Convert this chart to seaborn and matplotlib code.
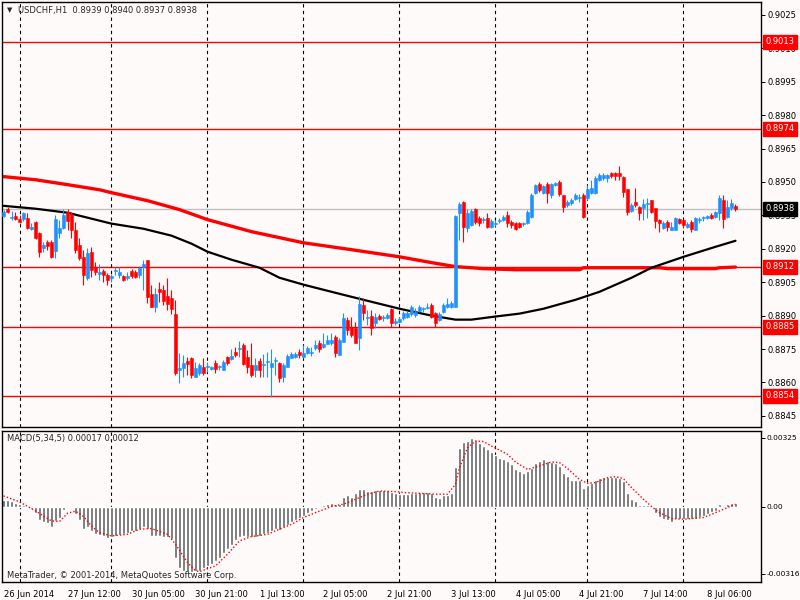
import numpy as np
import matplotlib
matplotlib.use('Agg')
import matplotlib.pyplot as plt
import matplotlib.transforms as mtransforms
import seaborn as sns

# USDCHF H1 candles, values in pips (0.0001)
opens = [8934.9, 8938.0, 8933.7, 8934.9, 8933.5, 8933.5, 8934.0, 8929.0, 8932.2, 8927.2,
         8920.5, 8923.2, 8923.2, 8919.1, 8927.2, 8929.5, 8936.7, 8935.8, 8928.6, 8921.8,
         8916.4, 8907.0, 8918.7, 8912.0, 8908.8, 8910.2, 8908.4, 8907.0, 8909.9, 8908.4,
         8907.9, 8907.0, 8910.2, 8909.7, 8908.4, 8912.0, 8915.1, 8899.8, 8894.0, 8902.1,
         8901.6, 8898.9, 8898.0, 8890.9, 8865.7, 8866.6, 8869.7, 8871.1, 8862.5, 8864.3,
         8867.0, 8866.8, 8866.1, 8868.8, 8866.8, 8865.7, 8871.5, 8870.6, 8873.8, 8874.9,
         8876.9, 8871.5, 8867.9, 8865.7, 8869.7, 8867.7, 8869.1, 8867.0, 8869.5, 8868.8,
         8862.5, 8867.0, 8871.1, 8871.5, 8873.8, 8871.5, 8873.3, 8873.1, 8875.6, 8877.8,
         8876.0, 8877.4, 8877.8, 8880.6, 8872.4, 8878.3, 8888.2, 8885.1, 8884.6, 8880.1,
         8894.9, 8889.1, 8890.0, 8886.9, 8890.0, 8888.9, 8889.1, 8893.1, 8886.9, 8887.3,
         8889.1, 8889.6, 8890.9, 8890.4, 8892.2, 8892.9, 8893.6, 8894.9, 8891.3, 8888.2,
         8891.8, 8894.0, 8894.0, 8894.0, 8936.2, 8941.1, 8929.5, 8930.8, 8938.0, 8934.0,
         8932.8, 8934.0, 8929.9, 8931.3, 8932.4, 8933.1, 8935.3, 8932.2, 8931.7, 8931.7,
         8931.0, 8931.7, 8934.4, 8945.2, 8949.2, 8945.2, 8949.2, 8944.3, 8948.8, 8950.1,
         8944.3, 8939.8, 8940.7, 8942.5, 8942.7, 8944.3, 8942.9, 8945.2, 8945.2, 8951.0,
         8951.9, 8951.9, 8954.2, 8954.2, 8954.2, 8952.4, 8947.0, 8937.1, 8941.1, 8938.9,
         8938.4, 8940.2, 8942.0, 8938.4, 8933.1, 8929.5, 8932.2, 8928.6, 8928.6, 8933.5,
         8933.1, 8929.9, 8932.2, 8928.6, 8932.8, 8933.7, 8934.0, 8935.3, 8934.4, 8936.2,
         8942.0, 8934.4, 8938.4, 8939.0]
highs = [8937.6, 8938.9, 8937.1, 8936.7, 8935.3, 8936.7, 8936.2, 8931.7, 8932.6, 8927.7,
         8923.2, 8924.1, 8924.1, 8935.3, 8933.1, 8938.0, 8938.0, 8936.7, 8932.2, 8925.0,
         8919.6, 8920.5, 8920.9, 8914.2, 8913.3, 8911.1, 8909.3, 8908.8, 8912.0, 8912.0,
         8908.4, 8909.7, 8911.1, 8910.6, 8912.4, 8915.1, 8915.1, 8903.9, 8902.5, 8905.2,
         8903.9, 8907.0, 8901.6, 8897.1, 8873.3, 8872.4, 8871.5, 8871.5, 8869.3, 8868.8,
         8871.1, 8869.3, 8867.5, 8870.2, 8867.9, 8870.2, 8872.0, 8875.1, 8876.0, 8878.7,
         8877.8, 8874.7, 8877.8, 8871.1, 8871.1, 8872.9, 8873.8, 8875.1, 8871.5, 8869.3,
         8868.8, 8872.9, 8873.8, 8873.8, 8875.1, 8876.9, 8876.5, 8876.0, 8879.2, 8879.2,
         8882.4, 8881.5, 8882.4, 8881.5, 8880.1, 8891.3, 8889.6, 8889.6, 8887.3, 8898.9,
         8898.0, 8892.7, 8892.7, 8891.3, 8890.9, 8890.4, 8891.3, 8893.6, 8889.1, 8889.6,
         8892.2, 8892.2, 8894.9, 8893.6, 8894.9, 8894.0, 8895.8, 8895.8, 8891.8, 8891.8,
         8895.8, 8898.0, 8896.7, 8935.3, 8941.1, 8941.5, 8938.0, 8938.0, 8938.4, 8934.9,
         8934.4, 8936.2, 8933.5, 8933.1, 8934.0, 8935.3, 8937.1, 8933.1, 8932.2, 8932.2,
         8932.2, 8937.6, 8945.2, 8949.2, 8950.1, 8948.8, 8950.1, 8949.7, 8950.1, 8951.0,
         8944.3, 8942.0, 8942.9, 8945.2, 8944.7, 8945.2, 8948.8, 8951.0, 8952.8, 8954.2,
         8954.2, 8953.7, 8954.6, 8954.6, 8957.3, 8952.8, 8947.0, 8940.7, 8947.4, 8939.3,
         8942.5, 8942.9, 8942.0, 8938.4, 8933.5, 8932.6, 8933.1, 8932.2, 8934.4, 8934.0,
         8933.5, 8932.2, 8933.1, 8934.4, 8934.4, 8934.9, 8935.3, 8936.2, 8937.1, 8944.3,
         8944.3, 8942.0, 8942.5, 8940.0]
lows = [8934.4, 8936.2, 8933.1, 8933.1, 8931.7, 8932.6, 8929.0, 8928.6, 8924.5, 8916.4,
        8918.7, 8919.6, 8916.0, 8916.0, 8925.0, 8929.0, 8928.6, 8925.0, 8918.2, 8915.1,
        8903.9, 8906.1, 8907.5, 8908.4, 8906.1, 8905.2, 8903.9, 8905.2, 8908.4, 8907.0,
        8905.7, 8906.1, 8907.0, 8907.0, 8907.0, 8901.6, 8895.8, 8894.0, 8891.8, 8896.2,
        8894.9, 8892.7, 8890.9, 8863.4, 8859.8, 8862.5, 8863.4, 8862.1, 8862.5, 8863.4,
        8863.4, 8864.8, 8865.7, 8864.3, 8865.7, 8865.7, 8867.9, 8870.2, 8871.5, 8871.5,
        8867.9, 8864.3, 8862.5, 8862.5, 8862.5, 8862.5, 8862.5, 8853.6, 8863.4, 8860.3,
        8860.3, 8867.0, 8871.1, 8871.1, 8871.1, 8871.1, 8872.9, 8872.0, 8874.7, 8873.8,
        8875.6, 8877.4, 8876.9, 8871.5, 8872.4, 8878.3, 8881.5, 8880.6, 8877.8, 8874.7,
        8888.2, 8886.0, 8881.5, 8884.6, 8888.2, 8887.8, 8888.7, 8885.1, 8886.0, 8886.9,
        8888.2, 8889.1, 8890.0, 8889.6, 8891.8, 8891.8, 8893.1, 8889.1, 8885.1, 8887.8,
        8891.3, 8893.6, 8893.6, 8894.0, 8924.1, 8923.2, 8927.7, 8930.4, 8931.3, 8930.4,
        8931.7, 8929.5, 8929.5, 8930.4, 8931.7, 8932.6, 8929.9, 8929.5, 8928.6, 8929.5,
        8930.4, 8931.3, 8934.0, 8944.7, 8945.6, 8944.7, 8940.7, 8942.9, 8948.3, 8943.8,
        8936.7, 8938.9, 8939.8, 8942.0, 8941.1, 8934.0, 8942.0, 8944.7, 8944.7, 8950.6,
        8951.0, 8950.1, 8951.9, 8951.0, 8951.0, 8943.4, 8935.3, 8936.7, 8938.9, 8933.1,
        8933.1, 8934.0, 8936.2, 8929.5, 8927.7, 8929.0, 8928.1, 8928.6, 8928.6, 8931.3,
        8929.5, 8929.5, 8927.7, 8928.6, 8931.7, 8932.6, 8933.5, 8933.5, 8934.0, 8933.1,
        8929.5, 8934.0, 8937.6, 8937.0]
closes = [8936.7, 8936.7, 8934.2, 8933.5, 8932.2, 8936.2, 8929.5, 8929.9, 8925.0, 8918.7,
          8921.8, 8921.4, 8916.4, 8933.5, 8929.5, 8935.3, 8932.6, 8928.6, 8919.6, 8916.0,
          8908.4, 8918.2, 8910.6, 8909.7, 8909.7, 8908.4, 8906.1, 8907.9, 8910.4, 8909.7,
          8906.1, 8907.9, 8907.9, 8907.5, 8911.5, 8913.3, 8898.5, 8894.0, 8899.8, 8900.7,
          8896.7, 8895.4, 8893.1, 8864.3, 8866.6, 8868.8, 8868.4, 8863.4, 8866.6, 8867.9,
          8864.3, 8867.3, 8867.0, 8866.1, 8867.3, 8869.3, 8868.8, 8872.0, 8872.4, 8875.4,
          8868.4, 8867.0, 8863.4, 8867.9, 8865.7, 8868.2, 8869.5, 8868.8, 8870.0, 8862.1,
          8867.9, 8872.0, 8872.9, 8872.9, 8872.4, 8873.3, 8875.6, 8873.5, 8876.9, 8875.1,
          8877.4, 8879.2, 8879.2, 8873.3, 8879.2, 8889.1, 8883.7, 8881.5, 8877.8, 8895.4,
          8891.3, 8889.6, 8884.6, 8889.6, 8888.7, 8889.3, 8890.4, 8886.9, 8887.8, 8888.7,
          8891.3, 8891.3, 8894.0, 8891.8, 8894.0, 8893.3, 8894.0, 8889.6, 8886.9, 8890.9,
          8894.9, 8895.4, 8895.8, 8934.9, 8940.2, 8929.9, 8936.2, 8937.1, 8932.2, 8931.7,
          8933.3, 8929.9, 8932.6, 8931.7, 8932.8, 8934.4, 8931.7, 8930.8, 8929.0, 8929.9,
          8931.5, 8936.7, 8944.3, 8948.8, 8946.5, 8948.3, 8945.2, 8949.2, 8949.7, 8944.7,
          8938.9, 8941.1, 8942.0, 8944.3, 8943.2, 8934.4, 8947.0, 8947.4, 8951.9, 8953.3,
          8953.3, 8953.3, 8952.8, 8952.8, 8952.8, 8945.6, 8936.7, 8939.8, 8939.8, 8936.2,
          8940.2, 8940.7, 8936.7, 8932.6, 8931.7, 8931.7, 8929.9, 8929.9, 8934.0, 8931.7,
          8930.8, 8931.3, 8929.0, 8934.0, 8933.3, 8934.2, 8934.9, 8934.0, 8936.7, 8942.9,
          8933.5, 8938.9, 8940.7, 8938.0]

# moving averages (pips), read at some bars
red_ma_idx = [0, 8, 16, 24, 27, 36, 44, 51, 62, 75, 87, 99, 107, 113, 120, 128, 144, 145,
              164, 166, 178, 179, 183]
red_ma = [8952.4, 8951.0, 8948.8, 8946.5, 8945.2, 8941.6, 8937.6, 8933.1, 8927.7, 8922.7,
          8919.6, 8916.4, 8913.8, 8912.0, 8911.1, 8910.6, 8910.6, 8911.5, 8911.5, 8911.1,
          8911.1, 8911.5, 8911.8]
black_ma_idx = [0, 8, 16, 27, 35, 42, 47, 51, 57, 64, 69, 75, 82, 90, 99, 107, 113, 117,
                123, 129, 135, 143, 149, 157, 162, 170, 178, 183]
black_ma = [8939.3, 8938.0, 8936.2, 8931.3, 8929.0, 8925.9, 8922.3, 8918.7, 8915.1, 8911.5,
            8907.0, 8903.9, 8900.7, 8897.1, 8893.1, 8890.0, 8888.2, 8888.2, 8889.6, 8890.9,
            8893.1, 8897.1, 8900.7, 8907.0, 8911.5, 8916.4, 8920.9, 8923.6]

# MACD(5,34,5) histogram and signal, in 0.00001 units
macd = [31, 31, 28, 20, 13, 8, -5, -11, -30, -63,
        -71, -77, -94, -66, -50, -16, -2, -2, -35, -61,
        -105, -97, -113, -129, -132, -137, -146, -141, -137, -133,
        -129, -121, -113, -113, -105, -97, -105, -137, -137, -137,
        -140, -144, -152, -239, -289, -301, -309, -306, -301, -301,
        -290, -278, -270, -254, -239, -215, -199, -179, -155, -140,
        -137, -144, -144, -140, -137, -129, -121, -113, -105, -110,
        -97, -86, -71, -61, -50, -42, -27, -19, -8, -3,
        8, 13, 17, 16, 13, 49, 55, 49, 64, 83,
        83, 75, 75, 79, 79, 79, 79, 71, 64, 60,
        60, 60, 64, 68, 72, 72, 71, 64, 49, 44,
        55, 55, 68, 188, 276, 306, 311, 327, 316, 300,
        287, 272, 259, 243, 232, 225, 217, 201, 181, 170,
        162, 170, 185, 209, 217, 225, 217, 212, 209, 193,
        162, 146, 126, 126, 126, 91, 104, 115, 127, 138,
        143, 143, 143, 143, 138, 122, 64, 39, 28, 8,
        8, 8, -3, -27, -46, -58, -63, -71, -58, -58,
        -58, -58, -58, -55, -47, -42, -35, -24, -19, 13,
        2, 13, 20, 17]
sig_idx = [0, 4, 8, 12, 14, 16, 18, 20, 22, 24, 27, 31, 34, 37, 41, 43, 46, 48, 49, 53,
           56, 59, 62, 66, 69, 72, 75, 78, 82, 85, 87, 91, 94, 99, 100, 104, 108, 111, 113,
           114, 116, 118, 120, 122, 124, 126, 128, 131, 134, 137, 139, 141, 144, 146, 148,
           151, 153, 155, 157, 160, 162, 164, 167, 170, 172, 175, 177, 180, 183]
sig = [52, 24, -19, -66, -69, -30, -20, -45, -90, -121, -137, -129, -105, -102, -129, -176,
       -262, -301, -305, -278, -223, -160, -140, -129, -105, -82, -50, -27, 2, 13, 28, 60,
       75, 71, 68, 64, 60, 60, 107, 185, 279, 311, 308, 287, 268, 248, 212, 177, 193, 212,
       209, 181, 130, 111, 115, 138, 143, 133, 91, 36, 2, -27, -55, -58, -55, -50, -35,
       -11, 13]

levels = [0.9013, 0.8974, 0.8912, 0.8885, 0.8854]
bid = 0.8938
price_ticks = [0.9025, 0.9010, 0.8995, 0.8980, 0.8965, 0.8950, 0.8935, 0.8920,
               0.8905, 0.8890, 0.8875, 0.8860, 0.8845]
macd_ticks = [0.00325, 0.0, -0.00316]
macd_tick_labels = ['0.00325', '0.00', '-0.00316']
day_starts = [4, 27, 51, 75, 99, 123, 146, 170]
date_idx = [0, 16, 32, 48, 64, 80, 96, 112, 128, 144, 160, 176]
date_labels = ['26 Jun 2014', '27 Jun 12:00', '30 Jun 05:00', '30 Jun 21:00', '1 Jul 13:00',
               '2 Jul 05:00', '2 Jul 21:00', '3 Jul 13:00', '4 Jul 05:00', '4 Jul 21:00',
               '7 Jul 14:00', '8 Jul 06:00']

sns.set_style('white')
plt.rcParams['font.family'] = ['DejaVu Sans']
bg = '#fffafa'

o = np.array(opens) / 1e4
h = np.array(highs) / 1e4
l = np.array(lows) / 1e4
c = np.array(closes) / 1e4
idx = np.arange(len(o))
cols = np.where(c >= o, '#1e90ff', '#ff0000')

fig = plt.figure(figsize=(8, 6), dpi=100, facecolor=bg)
ax = fig.add_axes([2.3 / 800, 1 - 427 / 600, 758.4 / 800, 425 / 600], facecolor=bg)
ax2 = fig.add_axes([2.3 / 800, 1 - 582 / 600, 758.4 / 800, 151 / 600], facecolor=bg)

# price panel
ax.axhline(bid, color='#c0c0c0', lw=1, zorder=1)
for lv in levels:
    ax.axhline(lv, color='#ff0000', lw=1, zorder=1)
for d in day_starts:
    ax.axvline(d, color='black', lw=0.8, ls=(0, (3, 3)), zorder=1)
    ax2.axvline(d, color='black', lw=0.8, ls=(0, (3, 3)), zorder=1)

sns.lineplot(x=red_ma_idx, y=np.array(red_ma) / 1e4, ax=ax, color='#ff0000', lw=2.4, zorder=2)
sns.lineplot(x=black_ma_idx, y=np.array(black_ma) / 1e4, ax=ax, color='black', lw=1.6, zorder=2)

ax.vlines(idx, l, h, colors=cols, lw=0.8, zorder=3)
ax.bar(idx, c - o, bottom=o, width=0.75, color=cols, edgecolor=cols, linewidth=0.4, zorder=4)

ax.set_xlim(-0.3, 189.3)
ax.set_ylim(0.88400, 0.90308)
ax.yaxis.tick_right()
ax.set_yticks(price_ticks)
ax.set_yticklabels([f'{t:.4f}' for t in price_ticks])
ax.set_xticks([])
ax.tick_params(axis='y', direction='out', length=3, width=0.7, pad=2, labelsize=6, colors='black')

trans = mtransforms.blended_transform_factory(ax.transAxes, ax.transData)
for lv in levels:
    ax.text(1.006, lv, f'{lv:.4f}', transform=trans, ha='left', va='center', fontsize=6,
            color='white', clip_on=False, zorder=10,
            bbox=dict(boxstyle='square,pad=0.3', fc='#ff0000', ec='#ff0000'))
ax.text(1.006, bid, f'{bid:.4f}', transform=trans, ha='left', va='center', fontsize=6,
        color='white', clip_on=False, zorder=10,
        bbox=dict(boxstyle='square,pad=0.3', fc='black', ec='black'))

# MACD panel
mv = np.array(macd) / 1e5
ax2.bar(idx, mv, width=0.8, color='#646464', zorder=2)
sns.lineplot(x=sig_idx, y=np.array(sig) / 1e5, ax=ax2, color='#ff0000', lw=1,
             linestyle=(0, (1, 1.5)), zorder=3)
ax2.set_xlim(-0.3, 189.3)
ax2.set_ylim(-0.00354, 0.00358)
ax2.yaxis.tick_right()
ax2.set_yticks(macd_ticks)
ax2.set_yticklabels(macd_tick_labels)
ax2.set_xticks(date_idx)
ax2.set_xticklabels(date_labels)
for t in ax2.get_xticklabels():
    t.set_ha('left')
ax2.tick_params(axis='y', direction='out', length=3, width=0.7, pad=1.5, labelsize=5.4,
                colors='black')
ax2.tick_params(axis='x', direction='out', length=3, width=0.7, pad=3, labelsize=6, colors='black')

for a in (ax, ax2):
    a.set_xlabel('')
    a.set_ylabel('')
    for s in a.spines.values():
        s.set_color('black')
        s.set_linewidth(1)

fig.text(7 / 800, 1 - 10 / 600, '\u25bc', fontsize=5, va='center', ha='left')
fig.text(18 / 800, 1 - 10 / 600, 'USDCHF,H1  0.8939 0.8940 0.8937 0.8938', fontsize=6,
         va='center', ha='left')
fig.text(7 / 800, 1 - 439 / 600, 'MACD(5,34,5) 0.00017 0.00012', fontsize=6,
         va='center', ha='left')
fig.text(7 / 800, 1 - 575 / 600, 'MetaTrader, \u00a9 2001-2014, MetaQuotes Software Corp.',
         fontsize=6, va='center', ha='left')

fig.savefig('out.png', dpi=100, facecolor=bg)
